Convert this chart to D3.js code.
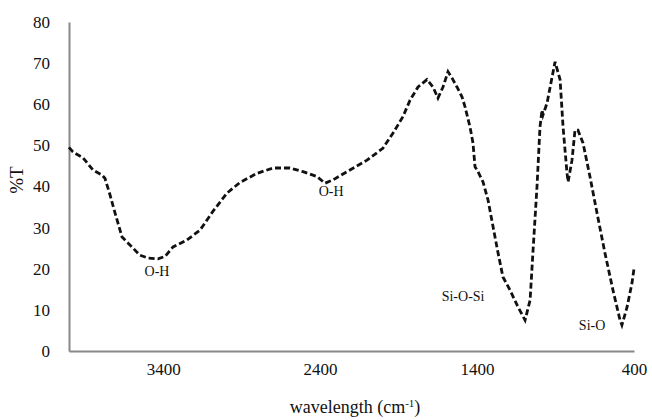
<!DOCTYPE html>
<html>
<head>
<meta charset="utf-8">
<script src="https://cdn.jsdelivr.net/npm/d3@7"></script>
<style>
    body{ margin:0; background:#fff; }
    text{ font-family: "Liberation Serif", "Times New Roman", serif; fill:#111; }
    .axis path{ stroke:#888; stroke-width:2px; }
    .axis .tick line{ display:none; }
    .axis .tick text{ font-size:17px; }
    .spectrum{ fill:none; stroke:#111; stroke-width:2.8px; stroke-dasharray:6,3; }
</style>
</head>
<body>
<svg width="652" height="420"></svg>
<script>
// FTIR spectrum
var wavenumber = [4000,3975,3911,3847,3790,3771,3739,3707,3662,3599,3548,3497,3433,3388,3337,3248,3165,3082,2993,2910,2802,2700,2592,2509,2420,2369,2318,2229,2101,2000,1935,1872,1827,1776,1719,1681,1649,1617,1585,1560,1528,1496,1477,1445,1426,1413,1394,1362,1330,1298,1266,1235,1190,1139,1094,1062,1043,1018,999,986,980,954,922,903,871,852,827,820,795,776,757,725,680,636,585,534,489,477,444,413,400];
var transmittance = [49.5,48.4,47,44,42.8,42,38,33.6,27.7,25.3,23.3,22.6,22.4,23,25.3,27,29.4,34,38.4,41,43.2,44.5,44.5,43.6,42.4,40.8,41.6,43.6,46.4,49.3,53,57,61,64.2,66,64.2,61.5,64.2,67.9,66.4,64.2,61.8,59.4,54.5,50.6,44.8,43.6,41.1,36.7,30.2,23.8,18,14.8,10.7,7.5,12.4,24.6,40,54.5,58.6,57.4,60.3,66.6,70.3,66,54.5,43.3,41.1,46.4,53.7,53.7,50.6,42.3,33.6,23.8,14.8,7.5,6.3,10.7,16.5,20];

var xTicks = [3400,2400,1400,400];
var yTicks = [0,10,20,30,40,50,60,70,80];

var bandLabels = ["O-H","O-H","Si-O-Si","Si-O"];
var bandX = [3439,2330,1489,667];
var bandY = [19,38.5,13,5.8];

var svg = d3.select("svg");
var x = d3.scaleLinear().domain([4000,400]).range([69,634]);
var y = d3.scaleLinear().domain([0,80]).range([351,22]);

svg.append("g")
    .attr("class","axis")
    .attr("transform","translate(0,351)")
    .call(d3.axisBottom(x).tickValues(xTicks).tickFormat(d3.format("d")).tickSize(0).tickPadding(12));

svg.append("g")
    .attr("class","axis")
    .attr("transform","translate(69,0)")
    .call(d3.axisLeft(y).tickValues(yTicks).tickSize(0).tickPadding(19));

var pts = wavenumber.map(function(w,i){ return [w, transmittance[i]]; });

svg.append("path")
    .datum(pts)
    .attr("class","spectrum")
    .attr("d", d3.line()
        .x(function(d){ return x(d[0]); })
        .y(function(d){ return y(d[1]); })
        .curve(d3.curveLinear));

svg.selectAll(".band")
    .data(bandLabels)
    .enter().append("text")
        .attr("class","band")
        .attr("x", function(d,i){ return x(bandX[i]); })
        .attr("y", function(d,i){ return y(bandY[i]); })
        .attr("text-anchor","middle")
        .attr("dominant-baseline","middle")
        .style("font-size","14px")
        .text(function(d){ return d; });

svg.append("text")
    .attr("transform","translate(19,180) rotate(-90)")
    .attr("text-anchor","middle")
    .attr("dominant-baseline","middle")
    .style("font-size","19px")
    .text("%T");

var title = svg.append("text")
    .attr("x",355)
    .attr("y",413)
    .attr("text-anchor","middle")
    .style("font-size","18px");
title.append("tspan").text("wavelength (cm");
title.append("tspan").attr("dy",-6).style("font-size","11px").text("-1");
title.append("tspan").attr("dy",6).text(")");
</script>
</body>
</html>
